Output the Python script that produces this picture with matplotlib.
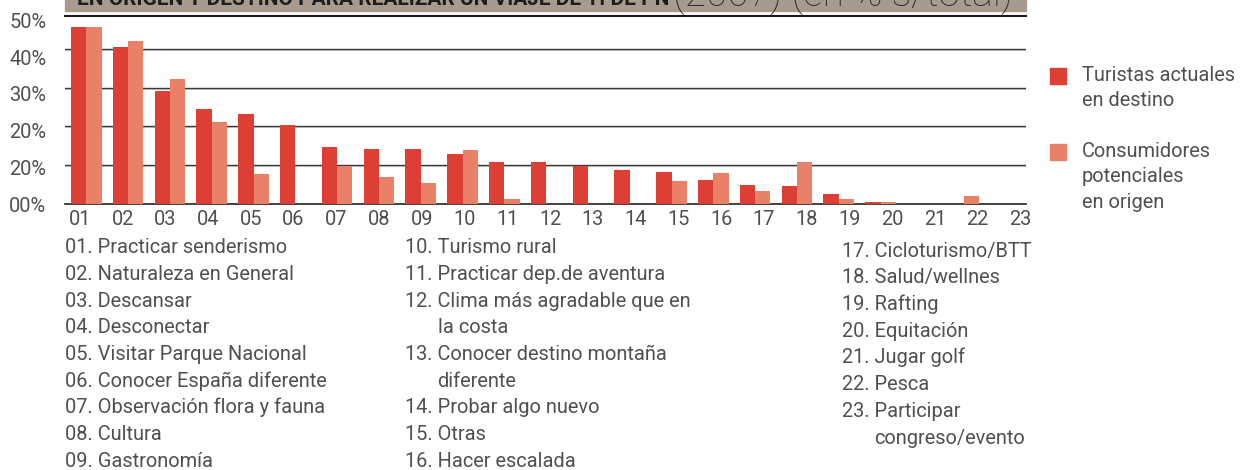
import matplotlib
matplotlib.use("Agg")
import matplotlib.pyplot as plt
from matplotlib.patches import Rectangle
import numpy as np

# ---------------- data ----------------
codes = ["01", "02", "03", "04", "05", "06", "07", "08", "09", "10", "11", "12",
         "13", "14", "15", "16", "17", "18", "19", "20", "21", "22", "23"]
turistas = [45.7, 40.5, 29.2, 24.5, 23.2, 20.4, 14.7, 14.2, 14.2, 12.9, 10.8, 10.8,
            9.8, 8.8, 8.3, 6.2, 4.9, 4.6, 2.6, 0.5, 0.0, 0.0, 0.0]
consumidores = [45.7, 42.1, 32.3, 21.2, 7.7, 0.0, 9.8, 7.0, 5.4, 13.9, 1.3, 0.0,
                0.0, 0.0, 5.9, 8.0, 3.4, 10.8, 1.3, 0.5, 0.0, 2.1, 0.0]
y_tick_labels = ["00%", "20%", "20%", "30%", "40%", "50%"]
series_names = [["Turistas actuales", "en destino"],
                ["Consumidores", "potenciales", "en origen"]]
title_bold = "EN ORIGEN Y DESTINO PARA REALIZAR UN VIAJE DE TI DE PN"
title_rest = "(2007) (en % s/total)"

col1 = [("01.", ["Practicar senderismo"]),
        ("02.", ["Naturaleza en General"]),
        ("03.", ["Descansar"]),
        ("04.", ["Desconectar"]),
        ("05.", ["Visitar Parque Nacional"]),
        ("06.", ["Conocer España diferente"]),
        ("07.", ["Observación flora y fauna"]),
        ("08.", ["Cultura"]),
        ("09.", ["Gastronomía"])]
col2 = [("10.", ["Turismo rural"]),
        ("11.", ["Practicar dep.de aventura"]),
        ("12.", ["Clima más agradable que en", "la costa"]),
        ("13.", ["Conocer destino montaña", "diferente"]),
        ("14.", ["Probar algo nuevo"]),
        ("15.", ["Otras"]),
        ("16.", ["Hacer escalada"])]
col3 = [("17.", ["Cicloturismo/BTT"]),
        ("18.", ["Salud/wellnes"]),
        ("19.", ["Rafting"]),
        ("20.", ["Equitación"]),
        ("21.", ["Jugar golf"]),
        ("22.", ["Pesca"]),
        ("23.", ["Participar", "congreso/evento"])]

# ---------------- style ----------------
RED = "#dc4034"
SALMON = "#e98068"
TXT = "#505050"
BAR_BG = "#a79b8f"
FONT = "Roboto"

W, H = 1253, 470
plt.rcParams["font.family"] = [FONT, "DejaVu Sans"]
fig = plt.figure(figsize=(W / 100, H / 100), dpi=100)
R = fig.canvas.get_renderer()


def fx(x):
    return x / W


def fy(y):
    return 1 - y / H


def text_w(s, size, weight="normal"):
    t = fig.text(0, 0, s, fontsize=size, fontweight=weight)
    w = t.get_window_extent(R).width
    t.remove()
    return w


# calibrate body font size so that the first list line spans ~224 px
FS = 14 * 224 / text_w("01. Practicar senderismo", 14)

# axes: left 65px, right 1026px, baseline 204px, top line 16px
ax = fig.add_axes([fx(65), fy(204), (1026 - 65) / W, (204 - 16) / H])

x = np.arange(len(codes))
bw = 0.366
ax.bar(x - bw / 2, turistas, width=bw, color=RED, zorder=3, linewidth=0)
ax.bar(x + bw / 2, consumidores, width=bw, color=SALMON, zorder=3, linewidth=0)

ax.set_xlim(-0.51, 22.48)
ax.set_ylim(0, 48.5)

for g in [10, 20, 30, 40]:
    ax.axhline(g - 0.25, color="#cfcfcf", lw=0.8, zorder=1)
    ax.axhline(g, color="#3a3a3a", lw=1.0, zorder=2)

for s in ["left", "right"]:
    ax.spines[s].set_visible(False)
ax.spines["bottom"].set_color("#333333")
ax.spines["bottom"].set_linewidth(1.3)
ax.spines["top"].set_color("#1a1a1a")
ax.spines["top"].set_linewidth(1.5)

ax.set_yticks(np.linspace(0, 47.3, len(y_tick_labels)))
ax.set_yticklabels(y_tick_labels)
xt = -0.155 + np.arange(len(codes)) * 1.0227
ax.set_xticks(xt)
ax.set_xticklabels(codes)
ax.tick_params(axis="y", length=0, pad=13.5, labelsize=FS, labelcolor=TXT)
ax.tick_params(axis="x", length=0, pad=4.0, labelsize=FS, labelcolor=TXT)

# ---------------- title bar (cut off at the top, as in the source) ----------------
fig.patches.append(Rectangle((fx(65), fy(10.5)), (1026 - 65) / W, 10.5 / H,
                             transform=fig.transFigure, color=BAR_BG, zorder=0))
fs_b = 14 * (672 - 77) / text_w(title_bold, 14, "bold")
fig.text(fx(77), fy(5.0), title_bold, fontsize=fs_b, fontweight="bold",
         color="#1e1e1e", va="baseline", ha="left")
fs_r = 14 * (1013 - 673) / text_w(title_rest, 14, "light")
fig.text(fx(673), fy(6.3), title_rest, fontsize=fs_r, color="#2e2e2e",
         va="baseline", ha="left", fontweight="light")

# ---------------- category list ----------------
LS = 26.7


def draw_col(items, x0, y0):
    y = y0
    for num, lines in items:
        prefix = num + " "
        indent = text_w(prefix + "x", FS) - text_w("x", FS)
        for k, ln in enumerate(lines):
            if k == 0:
                fig.text(fx(x0), fy(y), prefix + ln, fontsize=FS, color=TXT,
                         va="baseline", ha="left")
            else:
                fig.text(fx(x0) + indent / W, fy(y), ln, fontsize=FS, color=TXT,
                         va="baseline", ha="left")
            y += LS


draw_col(col1, 65, 253.3)
draw_col(col2, 405, 253.3)
draw_col(col3, 842, 256.7)

# ---------------- legend ----------------
leg_y = [68, 144]
for (names, col, ytop) in zip(series_names, [RED, SALMON], leg_y):
    fig.patches.append(Rectangle((fx(1050), fy(ytop + 15.5)), 16 / W, 15.5 / H,
                                 transform=fig.transFigure, color=col))
    for k, nm in enumerate(names):
        fig.text(fx(1081.5), fy(ytop + 12.7 + k * 25.4), nm, fontsize=FS,
                 color=TXT, va="baseline", ha="left")

fig.savefig("out.png", dpi=100)
